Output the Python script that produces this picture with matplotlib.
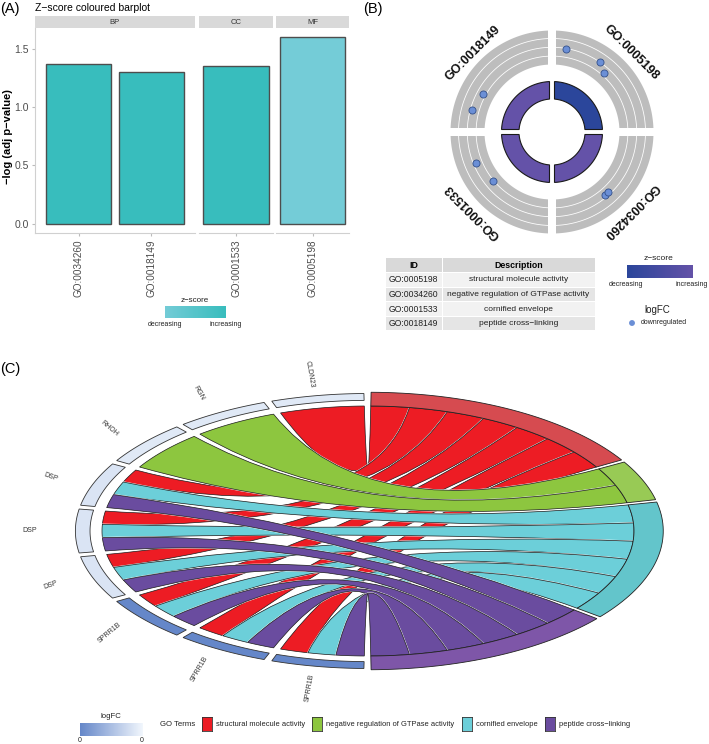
import numpy as np
import matplotlib
matplotlib.use("Agg")
import matplotlib.pyplot as plt
from matplotlib.patches import Rectangle, PathPatch, Polygon
from matplotlib.path import Path
from matplotlib.colors import LinearSegmentedColormap, Normalize

plt.rcParams['font.family'] = ['Liberation Sans', 'DejaVu Sans']

# ---------------- data ----------------
# Panel A
bar_ids = ["GO:0034260", "GO:0018149", "GO:0001533", "GO:0005198"]
bar_category = ["BP", "BP", "CC", "MF"]
bar_neglog_padj = [1.37, 1.305, 1.35, 1.60]
bar_zscore = [-1.414, -1.414, -1.414, -1.732]
a_yticks = [0.0, 0.5, 1.0, 1.5]

# Panel B
circ_terms = ["GO:0005198", "GO:0034260", "GO:0001533", "GO:0018149"]
circ_zscore = [-1.732, -1.414, -1.414, -1.414]
# points: term index, angle (deg), radial position (px from centre)
pt_term = [0, 0, 0, 1, 1, 2, 2, 3, 3]
pt_angle = [80.6, 55.7, 48.7, -50.0, -46.7, 202.0, 219.6, 151.0, 164.7]
pt_radius = [84, 85, 79, 82, 82, 82.5, 77, 78.5, 83]
table_ids = ["GO:0005198", "GO:0034260", "GO:0001533", "GO:0018149"]
table_desc = ["structural molecule activity", "negative regulation of GTPase activity",
              "cornified envelope", "peptide cross\u2212linking"]

# Panel C
chord_genes = ["CLDN23", "RGN", "RHOH", "DSP", "DSP", "DSP", "SPRR1B", "SPRR1B", "SPRR1B"]
chord_logfc = [-0.10, -0.10, -0.10, -0.12, -0.12, -0.12, -0.45, -0.45, -0.45]
chord_terms = ["structural molecule activity", "negative regulation of GTPase activity",
               "cornified envelope", "peptide cross\u2212linking"]
chord_member = [
    [1, 0, 0, 0],
    [0, 1, 0, 0],
    [0, 1, 0, 0],
    [1, 0, 1, 1],
    [1, 0, 1, 1],
    [1, 0, 1, 1],
    [1, 0, 1, 1],
    [1, 0, 1, 1],
    [1, 0, 1, 1],
]
ribbon_cols = ["#ED1C24", "#8DC63F", "#6CCFD9", "#6A4C9F"]
band_cols = ["#D64B50", "#98CA55", "#63C5CB", "#7E56A8"]

# ---------------- figure ----------------
W, H = 709, 744
fig = plt.figure(figsize=(W / 100, H / 100), dpi=100)


def pax(x0, y0, x1, y1):
    return fig.add_axes([x0 / W, 1 - y1 / H, (x1 - x0) / W, (y1 - y0) / H])


def ftext(x, y, s, **kw):
    fig.text(x / W, 1 - y / H, s, **kw)


def gradient(ax, cmap):
    ax.imshow(np.linspace(0, 1, 256)[None, :], aspect='auto', cmap=cmap,
              extent=[0, 1, 0, 1])
    ax.set_axis_off()


# ================= Panel A =================
ftext(0, 9, "(A)", fontsize=10.5, va='center', ha='left')
ftext(35, 8, "Z\u2212score coloured barplot", fontsize=7.5, va='center', ha='left')
ftext(8, 137, "\u2212log (adj p\u2212value)", fontsize=8, fontweight='bold',
      rotation=90, va='center', ha='center')

cmapA = LinearSegmentedColormap.from_list('zA', ['#74CCD7', '#38BDBD'])
normA = Normalize(min(bar_zscore), max(bar_zscore))

facets = ["BP", "CC", "MF"]
facet_px = {"BP": (35, 195), "CC": (199, 273), "MF": (276, 349)}
facet_xlim = {"BP": (0.4, 2.6), "CC": (0.49, 1.51), "MF": (0.49, 1.51)}
for k, f in enumerate(facets):
    x0, x1 = facet_px[f]
    idx = [i for i, c in enumerate(bar_category) if c == f]
    ax = pax(x0, 28, x1, 233)
    pos = np.arange(1, len(idx) + 1)
    ax.bar(pos, [bar_neglog_padj[i] for i in idx], width=0.9,
           color=[cmapA(normA(bar_zscore[i])) for i in idx],
           edgecolor='#4D4D4D', linewidth=1.0)
    ax.set_xlim(*facet_xlim[f])
    ax.set_ylim(-0.08, 1.68)
    ax.set_xticks(pos)
    ax.set_xticklabels([bar_ids[i] for i in idx], rotation=90, fontsize=7.2,
                       color='#4D4D4D')
    for s in ['top', 'right']:
        ax.spines[s].set_visible(False)
    ax.spines['bottom'].set_color('#D0D0D0')
    ax.spines['left'].set_color('#D0D0D0')
    ax.tick_params(axis='x', length=2.5, color='#BBBBBB', pad=2)
    if k == 0:
        ax.set_yticks(a_yticks)
        ax.set_yticklabels(["%.1f" % v for v in a_yticks], fontsize=7.5, color='#4D4D4D')
        ax.tick_params(axis='y', length=2.5, color='#BBBBBB', pad=2)
    else:
        ax.spines['left'].set_visible(False)
        ax.set_yticks([])
    sax = pax(x0, 16, x1, 28)
    sax.set_facecolor('#D9D9D9')
    sax.set_xticks([]); sax.set_yticks([])
    for s in sax.spines.values():
        s.set_visible(False)
    sax.text(0.5, 0.5, f, fontsize=5.5, color='#333333', ha='center', va='center',
             transform=sax.transAxes)

ftext(195, 301, "z\u2212score", fontsize=5.8, ha='center', va='center', color='#222222')
gradient(pax(165, 306, 226, 318), cmapA)
ftext(165, 325, "decreasing", fontsize=5, ha='center', va='center', color='#222222')
ftext(226, 325, "increasing", fontsize=5, ha='center', va='center', color='#222222')

# ================= Panel B =================
ftext(363, 9, "(B)", fontsize=10.5, va='center', ha='left')
axB = pax(440, 20, 664, 244)
axB.set_xlim(-112, 112)
axB.set_ylim(-112, 112)
axB.set_axis_off()

cmapB = LinearSegmentedColormap.from_list('zB', ['#2B469B', '#6452A8'])
normB = Normalize(min(circ_zscore), max(circ_zscore))
quad_sign = [(1, 1), (1, -1), (-1, -1), (-1, 1)]
quad_mid = [45, -45, 225, 135]


def quad_sector(sx, sy, r0, r1, gap, n=60):
    d = gap / 2.0
    a_out0, a_out1 = np.arcsin(d / r1), np.arccos(d / r1)
    a_in0, a_in1 = np.arcsin(d / r0), np.arccos(d / r0)
    t1 = np.linspace(a_out0, a_out1, n)
    t0 = np.linspace(a_in1, a_in0, n)
    xs = np.concatenate([r1 * np.cos(t1), r0 * np.cos(t0)])
    ys = np.concatenate([r1 * np.sin(t1), r0 * np.sin(t0)])
    return np.column_stack([sx * xs, sy * ys])


band_r = [(67.5, 75.5), (76.3, 84.3), (85.1, 93.1), (93.9, 101.5)]
for q, (sx, sy) in enumerate(quad_sign):
    for (r0, r1) in band_r:
        axB.add_patch(Polygon(quad_sector(sx, sy, r0, r1, 8), closed=True,
                              facecolor='#BDBDBD', edgecolor='none'))
    axB.add_patch(Polygon(quad_sector(sx, sy, 33, 50.5, 5), closed=True,
                          facecolor=cmapB(normB(circ_zscore[q])),
                          edgecolor='#1A1A1A', linewidth=0.8))
    mid = quad_mid[q]
    tr = np.deg2rad(mid)
    axB.text(112 * np.cos(tr), 112 * np.sin(tr), circ_terms[q], rotation=mid - 90,
             rotation_mode='anchor', ha='center', va='center', fontsize=9,
             fontweight='bold', color='#111111')

pa = np.deg2rad(pt_angle)
axB.scatter(np.array(pt_radius) * np.cos(pa), np.array(pt_radius) * np.sin(pa),
            s=26, color='#6B8FD6', edgecolor='#33508A', linewidths=0.6, zorder=5)

# table
axT = pax(385, 258, 595, 331)
axT.set_xlim(0, 210)
axT.set_ylim(73, 0)
axT.set_axis_off()
rh = 73 / 5.0
colsplit = 57
row_bg = ['#D9D9D9', '#F2F2F2', '#E5E5E5', '#F2F2F2', '#E5E5E5']
for r in range(5):
    for (cx0, cx1) in [(0, colsplit), (colsplit, 210)]:
        axT.add_patch(Rectangle((cx0 + 0.5, r * rh + 0.5), cx1 - cx0 - 1, rh - 1,
                                facecolor=row_bg[r], edgecolor='none'))
axT.text(colsplit / 2, rh / 2, "ID", ha='center', va='center', fontsize=6.3, fontweight='bold')
axT.text((colsplit + 210) / 2, rh / 2, "Description", ha='center', va='center',
         fontsize=6.3, fontweight='bold')
for i in range(4):
    axT.text(colsplit / 2, (i + 1.5) * rh, table_ids[i], ha='center', va='center',
             fontsize=6.2, color='#222222')
    axT.text((colsplit + 210) / 2, (i + 1.5) * rh, table_desc[i], ha='center',
             va='center', fontsize=6.0, color='#222222')

ftext(658, 258, "z\u2212score", fontsize=6, ha='center', va='center', color='#222222')
gradient(pax(627, 265, 693, 278), cmapB)
ftext(626, 285, "decreasing", fontsize=5, ha='center', va='center', color='#222222')
ftext(692, 285, "increasing", fontsize=5, ha='center', va='center', color='#222222')
ftext(657, 310, "logFC", fontsize=7, ha='center', va='center', color='#222222')
axL = pax(626, 317, 638, 329)
axL.set_xlim(0, 1); axL.set_ylim(0, 1); axL.set_axis_off()
axL.scatter([0.5], [0.5], s=18, color='#6B8FD6', edgecolor='none')
ftext(641, 323, "downregulated", fontsize=5, ha='left', va='center', color='#222222')

# ================= Panel C =================
ftext(0, 369, "(C)", fontsize=10.5, va='center', ha='left')
cx, cy, ux, uy = 368.0, 531.0, 266.0, 125.0
axC = pax(0, 360, 709, 700)
axC.set_xlim((0 - cx) / ux, (709 - cx) / ux)
axC.set_ylim((cy - 700) / uy, (cy - 360) / uy)
axC.set_axis_off()


def P(a, r=1.0):
    t = np.deg2rad(a)
    return (r * np.cos(t), r * np.sin(t))


def arc_pts(a0, a1, r, n=40):
    t = np.deg2rad(np.linspace(a0, a1, n))
    return np.column_stack([r * np.cos(t), r * np.sin(t)])


def annulus(a0, a1, r0, r1):
    return np.vstack([arc_pts(a0, a1, r1), arc_pts(a1, a0, r0)])


def ribbon_path(ga1, ga2, tlo, thi):
    verts, codes = [], []
    g = arc_pts(ga1, ga2, 1.0)
    verts += [tuple(p) for p in g]
    codes += [Path.MOVETO] + [Path.LINETO] * (len(g) - 1)
    verts += [(0, 0), P(tlo)]
    codes += [Path.CURVE3] * 2
    t = arc_pts(tlo, thi, 1.0)[1:]
    verts += [tuple(p) for p in t]
    codes += [Path.LINETO] * len(t)
    verts += [(0, 0), P(ga1)]
    codes += [Path.CURVE3] * 2
    verts.append(P(ga1))
    codes.append(Path.CLOSEPOLY)
    return Path(verts, codes)


member = np.array(chord_member)
ng, nt = member.shape
gene_step = 180.0 / ng
gene_gap = 1.6
gene_piece = {}
for i in range(ng):
    a0 = 90 + gene_step * i + gene_gap / 2
    a1 = 90 + gene_step * (i + 1) - gene_gap / 2
    terms_i = [j for j in range(nt) if member[i, j]]
    w = (a1 - a0) / len(terms_i)
    for k, j in enumerate(terms_i):
        gene_piece[(i, j)] = (a0 + k * w, a0 + (k + 1) * w)

term_gap = 1.0
edge_gap = 0.6
total = member.sum()
pw = (180 - 2 * edge_gap - (nt - 1) * term_gap) / total
term_piece = {}
term_range = []
cur = 90 - edge_gap
for j in range(nt):
    genes_j = [i for i in range(ng) if member[i, j]]
    hi = cur
    for i in genes_j:
        term_piece[(i, j)] = (cur - pw, cur)
        cur -= pw
    term_range.append((cur, hi))
    cur -= term_gap

for j in range(nt):
    for i in range(ng):
        if not member[i, j]:
            continue
        ga1, ga2 = gene_piece[(i, j)]
        tlo, thi = term_piece[(i, j)]
        path = ribbon_path(ga1, ga2, tlo, thi)
        axC.add_patch(PathPatch(path, facecolor='none', edgecolor='white', linewidth=1.1))
        axC.add_patch(PathPatch(path, facecolor=ribbon_cols[j], edgecolor='#1A1A1A',
                                linewidth=0.5))

for j in range(nt):
    lo, hi = term_range[j]
    axC.add_patch(Polygon(annulus(lo, hi, 1.0, 1.11), closed=True,
                          facecolor=band_cols[j], edgecolor='#222222', linewidth=0.6))

cmapC = LinearSegmentedColormap.from_list('lfc', ['#6587C9', '#F2F7FD'])
normC = Normalize(-0.45, -0.05)
for i in range(ng):
    a0 = 90 + gene_step * i + gene_gap / 2
    a1 = 90 + gene_step * (i + 1) - gene_gap / 2
    axC.add_patch(Polygon(annulus(a0, a1, 1.045, 1.10), closed=True,
                          facecolor=cmapC(normC(chord_logfc[i])), edgecolor='#333333',
                          linewidth=0.6))
    am = 90 + gene_step * (i + 0.5)
    x, y = P(am, 1.27)
    axC.text(x, y, chord_genes[i], rotation=am - 180, rotation_mode='anchor',
             ha='center', va='center', fontsize=5, color='#333333')

# legend C
ftext(111, 717, "logFC", fontsize=5.6, ha='center', va='center', color='#222222')
gradient(pax(80, 723, 142, 736), cmapC)
ftext(80, 741, "0", fontsize=5, ha='center', va='center', color='#222222')
ftext(142, 741, "0", fontsize=5, ha='center', va='center', color='#222222')
ftext(160, 724, "GO Terms", fontsize=5.6, ha='left', va='center', color='#222222')
box_x = [202, 312, 462, 545]
for j in range(nt):
    bx = box_x[j]
    axb = pax(bx, 717, bx + 10, 731)
    axb.set_facecolor(ribbon_cols[j])
    axb.set_xticks([]); axb.set_yticks([])
    for s in axb.spines.values():
        s.set_color('#333333'); s.set_linewidth(0.6)
    ftext(bx + 14, 724, chord_terms[j], fontsize=5.4, ha='left', va='center',
          color='#222222')

fig.savefig("out.png", dpi=100)
